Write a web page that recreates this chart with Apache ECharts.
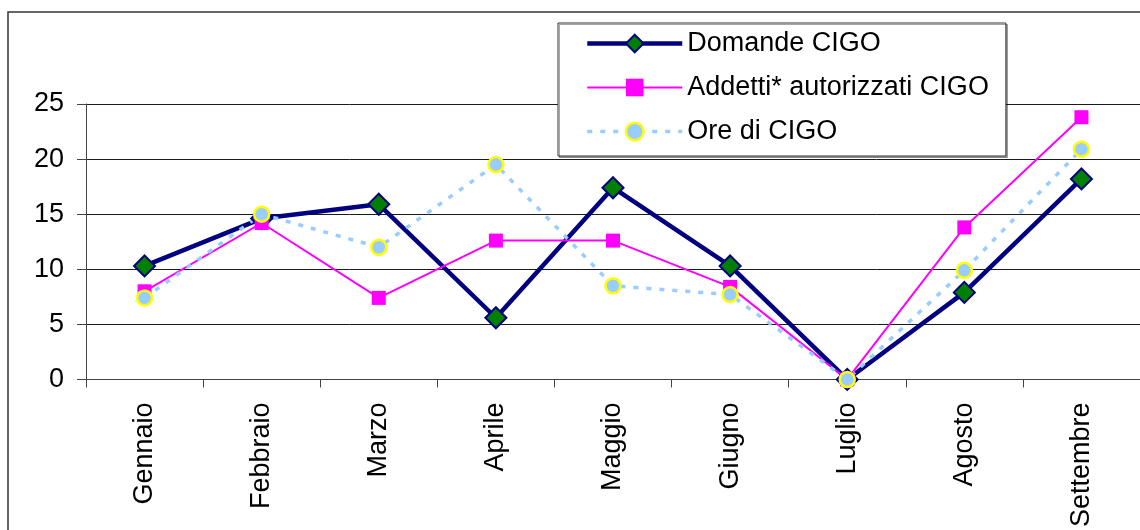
<!DOCTYPE html>
<html>
<head>
<meta charset="utf-8">
<script src="https://cdn.jsdelivr.net/npm/echarts@6/dist/echarts.min.js"></script>
<style>
  html, body { margin: 0; padding: 0; background: #ffffff; }
  #chart { width: 1140px; height: 530px; }
</style>
</head>
<body>
<div id="chart"></div>
<script>
// Mesi
const mesi = ['Gennaio', 'Febbraio', 'Marzo', 'Aprile', 'Maggio', 'Giugno', 'Luglio', 'Agosto', 'Settembre'];

// Valori delle tre serie
const domandeCIGO = [10.3, 14.6, 15.9, 5.6, 17.4, 10.3, 0, 7.9, 18.2];
const addettiCIGO = [8.0, 14.2, 7.4, 12.6, 12.6, 8.4, 0, 13.8, 23.8];
const oreCIGO = [7.4, 15.0, 12.0, 19.5, 8.5, 7.7, 0, 9.9, 20.9];

// Etichette dell'asse verticale
const yMin = 0, yMax = 25, yStep = 5;

const FONT = 'Arial, "Liberation Sans", sans-serif';

// Stili delle serie, usati anche per la legenda
const stileDomande = {
  line: { color: '#000080', width: 4.5 },
  item: { color: '#008000', borderColor: '#000080', borderWidth: 2 }
};
const stileAddetti = {
  line: { color: '#ff00ff', width: 2 },
  item: { color: '#ff00ff', borderColor: '#ff00ff', borderWidth: 0 }
};
const stileOre = {
  line: { color: '#99ccff', width: 3.5, type: [5, 8] },
  item: { color: '#99ccff', borderColor: '#ffff00', borderWidth: 2.5 }
};

const chart = echarts.init(document.getElementById('chart'), null, { renderer: 'canvas' });

chart.setOption({
  backgroundColor: '#ffffff',
  animation: false,
  textStyle: { fontFamily: FONT },
  graphic: [{
    type: 'rect',
    z: -10,
    shape: { x: 8, y: 12, width: 1160, height: 540 },
    style: { fill: 'none', stroke: '#333333', lineWidth: 1.5 }
  }],
  grid: { left: 86, top: 104, width: 1061, height: 278 },
  legend: {
    orient: 'vertical',
    left: 558,
    top: 23,
    padding: [7, 17, 11, 27],
    itemGap: 17,
    itemWidth: 95,
    itemHeight: 22,
    backgroundColor: '#ffffff',
    borderColor: '#333333',
    borderWidth: 1,
    shadowColor: 'rgba(0,0,0,0.35)',
    shadowOffsetX: 1.5,
    shadowOffsetY: 1.5,
    shadowBlur: 0,
    textStyle: { fontFamily: FONT, fontSize: 27, color: '#000000' },
    data: [
      { name: 'Domande CIGO', lineStyle: stileDomande.line, itemStyle: stileDomande.item },
      { name: 'Addetti* autorizzati CIGO', lineStyle: stileAddetti.line, itemStyle: stileAddetti.item },
      { name: 'Ore di CIGO', lineStyle: stileOre.line, itemStyle: stileOre.item }
    ]
  },
  xAxis: {
    type: 'category',
    data: mesi,
    boundaryGap: true,
    axisLine: { lineStyle: { color: '#444444', width: 1 } },
    axisTick: { show: true, length: 8, alignWithLabel: false, lineStyle: { color: '#444444' } },
    axisLabel: {
      rotate: 90,
      margin: 23,
      interval: 0,
      fontFamily: FONT,
      fontSize: 27,
      color: '#000000'
    },
    splitLine: { show: false }
  },
  yAxis: {
    type: 'value',
    min: yMin,
    max: yMax,
    interval: yStep,
    axisLine: { show: true, lineStyle: { color: '#444444', width: 1 } },
    axisTick: { show: true, length: 9, lineStyle: { color: '#444444' } },
    axisLabel: { margin: 22, fontFamily: FONT, fontSize: 27, color: '#000000' },
    splitLine: { show: true, lineStyle: { color: '#1a1a1a', width: 1 } }
  },
  series: [
    {
      name: 'Domande CIGO',
      type: 'line',
      data: domandeCIGO,
      symbol: 'diamond',
      symbolSize: 21,
      lineStyle: stileDomande.line,
      itemStyle: stileDomande.item
    },
    {
      name: 'Addetti* autorizzati CIGO',
      type: 'line',
      data: addettiCIGO,
      symbol: 'rect',
      symbolSize: 14,
      lineStyle: stileAddetti.line,
      itemStyle: stileAddetti.item
    },
    {
      name: 'Ore di CIGO',
      type: 'line',
      data: oreCIGO,
      symbol: 'circle',
      symbolSize: 15,
      lineStyle: stileOre.line,
      itemStyle: stileOre.item
    }
  ]
});
</script>
</body>
</html>
